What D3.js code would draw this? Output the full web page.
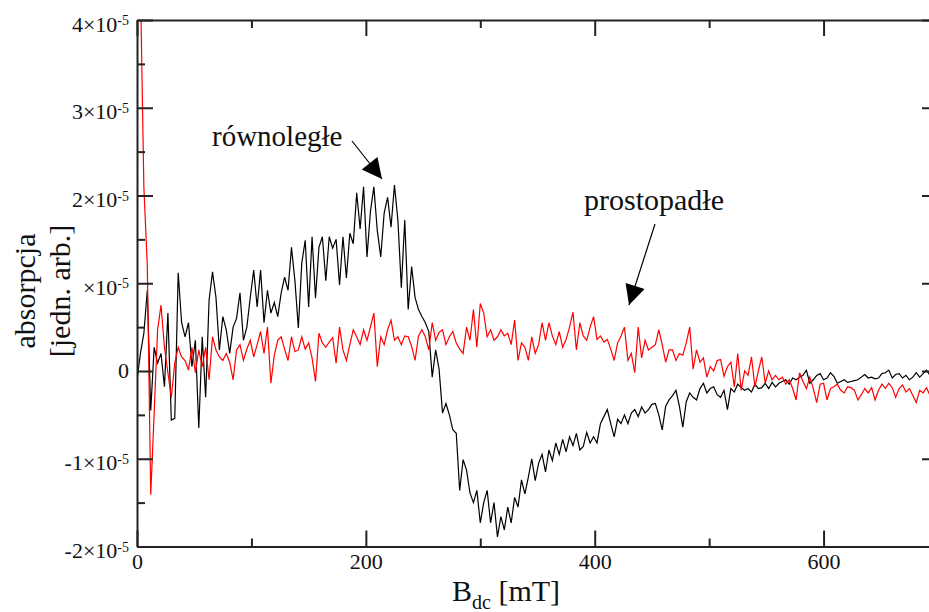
<!DOCTYPE html>
<html lang="pl">
<head>
<meta charset="UTF-8">
<title>absorpcja</title>
<script src="https://d3js.org/d3.v7.min.js"></script>
<style>
  body { margin: 0; background: #fff; }
  svg text { font-family: "Liberation Serif", "Times New Roman", serif; fill: #111; }
  .axis path, .axis line { stroke: #222; stroke-width: 2; }
</style>
</head>
<body>
<div id="chart"></div>
<script>
// field sampled every 3 mT from 0 mT
const fieldStep = 3;

// absorption in units of 1e-5, "równoległe" (black)
const parallel = [
  -0.1, 0.2, 0.43, 0.92, -0.45, 0.27, 0.09, 0.2, -0.18, 0.66,
  -0.56, -0.54, 1.12, 0.55, 0.39, 0.55, 0.05, 0.35, -0.65, 0.39,
  -0.3, 0.81, 1.13, 0.84, 0.24, 0.62, 0.47, 0.2, 0.5, 0.6,
  0.89, 0.35, 0.5, 0.84, 1.15, 0.73, 1.15, 0.55, 0.92, 0.66,
  0.78, 0.62, 0.89, 1.07, 0.92, 1.41, 1.03, 0.49, 1.23, 1.49,
  0.73, 1.53, 0.83, 1.41, 1.53, 1.03, 1.53, 1.4, 1.5, 0.98,
  1.53, 1.06, 1.57, 1.45, 2.03, 1.62, 2.1, 1.3, 1.82, 2.1,
  1.6, 1.3, 1.8, 1.98, 1.64, 2.12, 1.72, 0.95, 1.72, 0.7,
  1.19, 0.84, 0.7, 0.62, 0.55, 0.45, -0.07, 0.24, 0.02, -0.48,
  -0.37, -0.5, -0.67, -0.71, -1.36, -1.01, -1.13, -1.39, -1.5, -1.36,
  -1.73, -1.5, -1.36, -1.73, -1.5, -1.89, -1.66, -1.81, -1.55, -1.73,
  -1.44, -1.55, -1.24, -1.4, -1.21, -1.0, -1.25, -1.05, -0.95, -1.15,
  -0.9, -1.02, -0.82, -0.95, -0.78, -0.92, -0.75, -0.85, -0.71, -0.9,
  -0.86, -0.7, -0.82, -0.75, -0.82, -0.6, -0.52, -0.44, -0.6, -0.75,
  -0.55, -0.6, -0.5, -0.6, -0.48, -0.44, -0.52, -0.41, -0.48, -0.44,
  -0.38, -0.37, -0.5, -0.67, -0.4, -0.33, -0.28, -0.22, -0.4, -0.64,
  -0.35, -0.25, -0.3, -0.33, -0.2, -0.14, -0.25, -0.2, -0.18, -0.27,
  -0.3, -0.22, -0.44, -0.2, -0.24, -0.15, -0.19, -0.22, -0.2, -0.24,
  -0.15, -0.2, -0.19, -0.14, -0.2, -0.13, -0.18, -0.14, -0.12, -0.1,
  -0.15, -0.08, -0.1, -0.07, -0.05, 0.01, -0.14, -0.1, -0.05, -0.03,
  -0.1, -0.08, -0.02, -0.06, -0.14, -0.12, -0.1, -0.13, -0.12, -0.11,
  -0.1, -0.07, -0.04, -0.08, -0.07, -0.09, -0.08, -0.03, -0.02, 0.01,
  -0.08, -0.04, -0.03, -0.08, -0.05, -0.1, -0.07, -0.02, -0.07, -0.03,
  0.01, -0.05, -0.03, -0.06
];

// absorption in units of 1e-5, "prostopadłe" (red)
const perpendicular = [
  5.5, 4.4, 2.1, 1.2, -1.41, -0.48, 0.47, 0.75, 0.27, -0.02,
  -0.3, 0.09, 0.27, 0.16, 0.12, 0.01, 0.27, -0.02, 0.24, 0.05,
  0.27, -0.1, 0.39, 0.24, 0.16, 0.12, 0.2, 0.1, -0.1, 0.24,
  0.3, 0.12, 0.25, 0.35, 0.16, 0.3, 0.45, 0.2, 0.5, -0.14,
  0.18, 0.35, 0.39, 0.25, 0.12, 0.39, 0.22, 0.24, 0.39, 0.25,
  0.32, 0.15, -0.12, 0.43, 0.32, 0.27, 0.33, 0.38, 0.09, 0.5,
  0.24, 0.12, 0.3, 0.47, 0.39, 0.3, 0.47, 0.35, 0.5, 0.66,
  0.05, 0.39, 0.3, 0.47, 0.58, 0.35, 0.39, 0.3, 0.4, 0.39,
  0.28, 0.12, 0.4, 0.47, 0.39, 0.24, 0.55, 0.35, 0.44, 0.47,
  0.3, 0.39, 0.45, 0.32, 0.25, 0.2, 0.5, 0.35, 0.7, 0.27,
  0.77, 0.66, 0.39, 0.47, 0.35, 0.39, 0.47, 0.4, 0.43, 0.3,
  0.58, 0.12, 0.32, 0.27, 0.12, 0.39, 0.2, 0.3, 0.55, 0.35,
  0.55, 0.4, 0.3, 0.45, 0.27, 0.36, 0.5, 0.67, 0.24, 0.55,
  0.4, 0.35, 0.5, 0.62, 0.36, 0.4, 0.33, 0.36, 0.25, 0.12,
  0.32, 0.4, 0.5, 0.12, 0.2, -0.02, 0.5, 0.15, 0.35, 0.24,
  0.27, 0.3, 0.47, 0.3, 0.1, 0.24, 0.24, 0.12, 0.2, 0.18,
  0.32, 0.5, 0.02, 0.24, 0.1, 0.15, -0.07, 0.05, 0.0, 0.12,
  0.13, -0.06, 0.05, 0.1, -0.18, 0.2, -0.22, 0.0, -0.05, 0.16,
  -0.18, 0.0, 0.16, -0.14, 0.0, -0.1, -0.05, -0.1, -0.07, -0.15,
  -0.1, -0.2, -0.33, -0.02, -0.12, -0.2, -0.07, -0.2, -0.36, -0.15,
  -0.14, -0.33, -0.2, -0.18, -0.15, -0.22, -0.25, -0.18, -0.19, -0.22,
  -0.33, -0.27, -0.2, -0.25, -0.19, -0.33, -0.22, -0.15, -0.2, -0.14,
  -0.19, -0.3, -0.2, -0.16, -0.24, -0.2, -0.28, -0.36, -0.22, -0.25,
  -0.19, -0.28, -0.24, -0.2
];

const xMajor = [0, 200, 400, 600];
const xMinor = [100, 300, 500];
const yMajor = [-2, -1, 0, 1, 2, 3, 4];
const yMinor = [-1.5, -0.5, 0.5, 1.5, 2.5, 3.5];

const width = 929;
const height = 612;
const plot = { left: 137, top: 20, right: 938, bottom: 546.5 };

const x = d3.scaleLinear().domain([0, 700]).range([plot.left, plot.right]);
const y = d3.scaleLinear().domain([-2, 4]).range([plot.bottom, plot.top]);

const svg = d3.select("#chart")
  .append("svg")
  .attr("width", width)
  .attr("height", height);

svg.append("defs").append("clipPath")
  .attr("id", "clip")
  .append("rect")
  .attr("x", plot.left)
  .attr("y", plot.top)
  .attr("width", plot.right - plot.left)
  .attr("height", plot.bottom - plot.top);

// data lines
const line = d3.line()
  .x((d, i) => x(i * fieldStep))
  .y(d => y(d));

const lines = svg.append("g").attr("clip-path", "url(#clip)");
lines.append("path")
  .datum(parallel)
  .attr("d", line)
  .attr("fill", "none")
  .attr("stroke", "#000")
  .attr("stroke-width", 1.2);
lines.append("path")
  .datum(perpendicular)
  .attr("d", line)
  .attr("fill", "none")
  .attr("stroke", "#ff0000")
  .attr("stroke-width", 1.2);

// axes: frame with inward ticks on all sides
function addAxis(axis, tx, ty, withDomain) {
  const g = svg.append("g")
    .attr("class", "axis")
    .attr("transform", `translate(${tx},${ty})`)
    .call(axis);
  if (!withDomain) g.select(".domain").remove();
  return g;
}

const bottomAxis = addAxis(d3.axisBottom(x).tickValues(xMajor).tickSize(-16).tickSizeOuter(0)
  .tickPadding(7).tickFormat(d3.format("d")), 0, plot.bottom, true);
bottomAxis.selectAll("text").attr("font-size", 22);
addAxis(d3.axisBottom(x).tickValues(xMinor).tickSize(-8).tickFormat(""), 0, plot.bottom, false);

addAxis(d3.axisTop(x).tickValues(xMajor).tickSize(-16).tickSizeOuter(0).tickFormat(""), 0, plot.top, true);
addAxis(d3.axisTop(x).tickValues(xMinor).tickSize(-8).tickFormat(""), 0, plot.top, false);

const leftAxis = addAxis(d3.axisLeft(y).tickValues(yMajor).tickSize(-16).tickSizeOuter(0)
  .tickPadding(8), plot.left, 0, true);
addAxis(d3.axisLeft(y).tickValues(yMinor).tickSize(-8).tickFormat(""), plot.left, 0, false);

addAxis(d3.axisRight(y).tickValues(yMajor).tickSize(-16).tickSizeOuter(0).tickFormat(""), plot.right, 0, true);
addAxis(d3.axisRight(y).tickValues(yMinor).tickSize(-8).tickFormat(""), plot.right, 0, false);

// y tick labels like 2×10^-5
leftAxis.selectAll(".tick text").each(function(d) {
  const t = d3.select(this).text(null)
    .attr("font-size", 22)
    .attr("dy", d === 0 ? "0.3em" : "0.5em");
  if (d === 0) {
    t.text("0");
    return;
  }
  t.append("tspan").text(d + "×10");
  t.append("tspan").attr("dy", "-0.45em").attr("font-size", 14).text("-5");
});

// axis titles
const xTitle = svg.append("text")
  .attr("x", 452)
  .attr("y", 601)
  .attr("font-size", 30);
xTitle.append("tspan").text("B");
xTitle.append("tspan").attr("dy", 8).attr("font-size", 20).text("dc");
xTitle.append("tspan").attr("dy", -8).text(" [mT]");

svg.append("rect")
  .attr("x", 44)
  .attr("y", 222)
  .attr("width", 38)
  .attr("height", 140)
  .attr("fill", "#fff");

svg.append("text")
  .attr("transform", "translate(35,291) rotate(-90)")
  .attr("text-anchor", "middle")
  .attr("font-size", 30)
  .text("absorpcja");
svg.append("text")
  .attr("transform", "translate(70,291) rotate(-90)")
  .attr("text-anchor", "middle")
  .attr("font-size", 30)
  .text("[jedn. arb.]");

// annotations with arrows
svg.append("defs").append("marker")
  .attr("id", "head")
  .attr("viewBox", "0 0 10 10")
  .attr("refX", 10)
  .attr("refY", 5)
  .attr("markerUnits", "userSpaceOnUse")
  .attr("markerWidth", 24)
  .attr("markerHeight", 20)
  .attr("orient", "auto")
  .append("path")
  .attr("d", "M0,0L10,5L0,10Z")
  .attr("fill", "#000");

svg.append("text")
  .attr("x", 212)
  .attr("y", 146)
  .attr("font-size", 29)
  .text("równoległe");
svg.append("line")
  .attr("x1", 352).attr("y1", 141)
  .attr("x2", 382).attr("y2", 179)
  .attr("stroke", "#000")
  .attr("stroke-width", 1.2)
  .attr("marker-end", "url(#head)");

svg.append("text")
  .attr("x", 584)
  .attr("y", 210)
  .attr("font-size", 30)
  .text("prostopadłe");
svg.append("line")
  .attr("x1", 655).attr("y1", 224)
  .attr("x2", 629).attr("y2", 305)
  .attr("stroke", "#000")
  .attr("stroke-width", 1.2)
  .attr("marker-end", "url(#head)");
</script>
</body>
</html>
